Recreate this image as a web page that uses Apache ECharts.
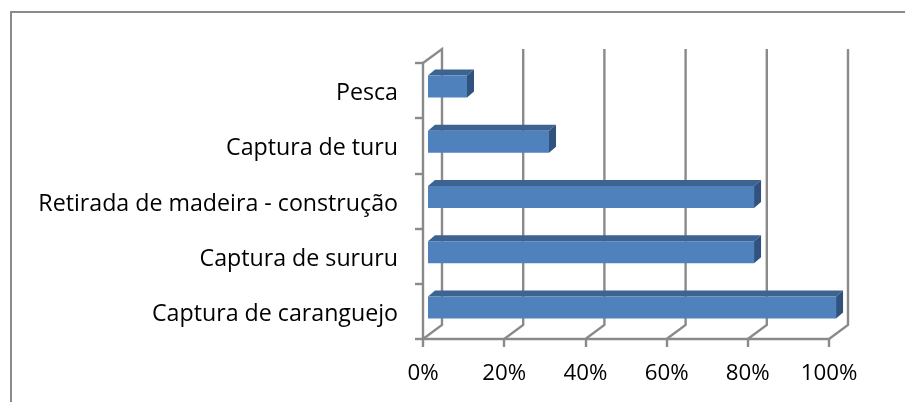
<!DOCTYPE html>
<html>
<head>
<meta charset="utf-8">
<style>
  html, body { margin: 0; padding: 0; background: #fff; }
  #chart { width: 905px; height: 402px; }
</style>
<script src="https://cdn.jsdelivr.net/npm/echarts@6/dist/echarts.min.js"></script>
</head>
<body>
<div id="chart"></div>
<script>
const categories = ["Captura de caranguejo", "Captura de sururu", "Retirada de madeira - construção", "Captura de turu", "Pesca"];
const percentValues = [100, 80, 80, 30, 10];
const gridTicks = [0, 20, 40, 60, 80, 100];

const axisColor = "#8a8a8a";
const wallDepth = [19, -14]; // fundo do grafico 3d
const barDepth = [7, -6];

const chart = echarts.init(document.getElementById("chart"));

// paredes do fundo: chao em diagonal + linha vertical
function renderWall(params, api) {
  const i = api.value(0);
  const floor = api.coord([gridTicks[i], 0]);
  const band = api.size([0, 1])[1];
  const x = floor[0];
  const y0 = floor[1] + band / 2;
  const y1 = y0 - band * categories.length;
  const bx = x + wallDepth[0];
  const points = [[x, y0], [bx, y0 + wallDepth[1]], [bx, y1 + wallDepth[1]]];
  if (i === 0) points.push([x, y1]);
  return {
    type: "polyline",
    shape: { points },
    style: { stroke: axisColor, lineWidth: 2.4, fill: null },
  };
}

function renderBar(params, api) {
  const i = api.value(1);
  const start = api.coord([0, i]);
  const end = api.coord([api.value(0), i]);
  const h = 22;
  const x0 = start[0] + 5;
  const x1 = end[0] + 3 + (end[0] - start[0]) * 0.01;
  const y0 = start[1] - 15;
  const y1 = y0 + h;
  const dx = barDepth[0];
  const dy = barDepth[1];
  return {
    type: "group",
    children: [
      {
        type: "polygon",
        shape: { points: [[x0, y0], [x0 + dx, y0 + dy], [x1 + dx, y0 + dy], [x1, y0]] },
        style: { fill: "#3d6391" },
      },
      {
        type: "polygon",
        shape: { points: [[x1, y0], [x1 + dx, y0 + dy], [x1 + dx, y1 + dy], [x1, y1]] },
        style: { fill: "#30527f" },
      },
      {
        type: "rect",
        shape: { x: x0, y: y0, width: x1 - x0, height: h },
        style: { fill: "#4f81bd" },
      },
    ],
  };
}

chart.setOption({
  animation: false,
  backgroundColor: "#fff",
  textStyle: { fontFamily: "Open Sans" },
  graphic: [
    {
      type: "polyline",
      shape: { points: [[11, 402], [11, 12], [905, 12]] },
      style: { stroke: axisColor, lineWidth: 2, fill: null },
      silent: true,
    },
  ],
  grid: { left: 423, right: 76, top: 63, bottom: 63 },
  xAxis: {
    type: "value",
    min: 0,
    max: 100,
    interval: 20,
    splitLine: { show: false },
    axisLine: { show: true, lineStyle: { color: axisColor, width: 2.4 } },
    axisTick: { show: true, length: 8, lineStyle: { color: axisColor, width: 2.4 } },
    axisLabel: { color: "#000", fontFamily: "Open Sans", fontSize: 22.3, margin: 24, formatter: "{value}%", hideOverlap: false },
  },
  yAxis: {
    type: "category",
    data: categories,
    axisLine: { show: true, lineStyle: { color: axisColor, width: 2.4 } },
    axisTick: { show: true, length: 8, lineStyle: { color: axisColor, width: 2.4 } },
    axisLabel: { color: "#000", fontFamily: "Open Sans", fontSize: 23.2, margin: 25, interval: 0, verticalAlign: "top", lineHeight: 6 },
  },
  series: [
    {
      type: "custom",
      coordinateSystem: "cartesian2d",
      clip: false,
      silent: true,
      z: 1,
      renderItem: renderWall,
      encode: { x: 1, y: 2 },
      data: gridTicks.map((t, i) => [i, t, 0]),
    },
    {
      type: "custom",
      coordinateSystem: "cartesian2d",
      clip: false,
      silent: true,
      z: 3,
      renderItem: renderBar,
      encode: { x: 0, y: 1 },
      data: percentValues.map((v, i) => [v, i]),
    },
  ],
});
</script>
</body>
</html>
